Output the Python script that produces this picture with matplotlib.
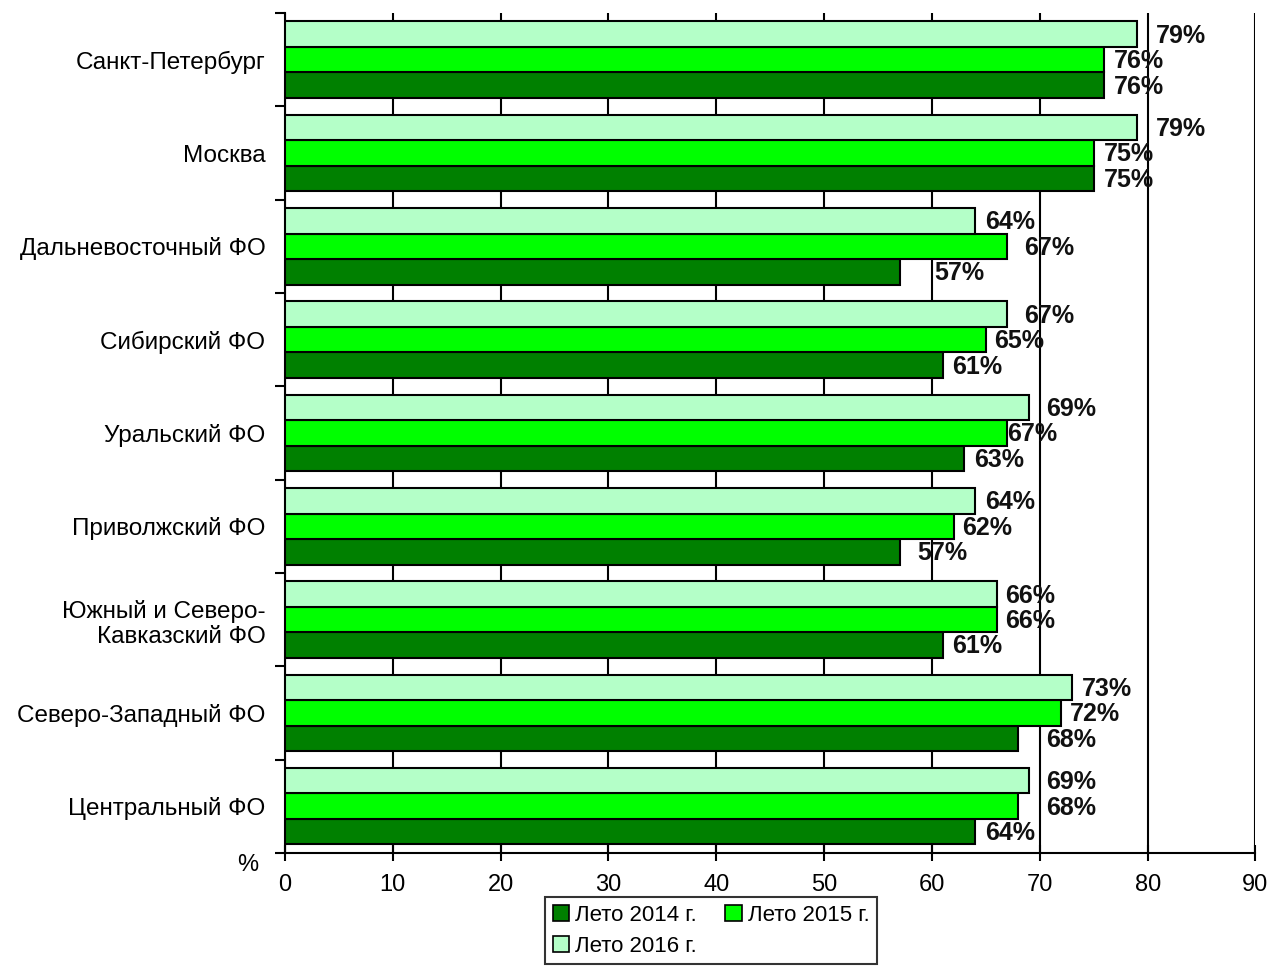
import numpy as np
import matplotlib
matplotlib.use("Agg")
import matplotlib.pyplot as plt
from matplotlib.patches import Patch

# ==========================================
# DATA
# ==========================================
regions = [
    "Центральный ФО",
    "Северо-Западный ФО",
    "Южный и Северо-\nКавказский ФО",
    "Приволжский ФО",
    "Уральский ФО",
    "Сибирский ФО",
    "Дальневосточный ФО",
    "Москва",
    "Санкт-Петербург",
]
summer_2014 = [64, 68, 61, 57, 63, 61, 57, 75, 76]
summer_2015 = [68, 72, 66, 62, 67, 65, 67, 75, 76]
summer_2016 = [69, 73, 66, 64, 69, 67, 64, 79, 79]
series_names = ["Лето 2014 г.", "Лето 2015 г.", "Лето 2016 г."]
x_ticks = [0, 10, 20, 30, 40, 50, 60, 70, 80, 90]

# label offsets (points) to mimic the original label placement
dx_2014 = [7, 20, 7, 13, 7, 7, 25, 7, 7]
dx_2015 = [20, 6, 6, 6, 0, 6, 12, 7, 7]
dx_2016 = [12, 7, 6, 7, 12, 12, 7, 14, 14]
# ==========================================

plt.rcParams["font.family"] = ["Liberation Sans", "DejaVu Sans"]

colors = ["#008000", "#00ff00", "#b4ffc8"]
bar_h = 0.273

fig = plt.figure(figsize=(12.72, 9.67), dpi=100)
ax = fig.add_axes([0.224, 0.118, 0.763, 0.8685])

y = np.arange(len(regions))
all_series = [summer_2014, summer_2015, summer_2016]
all_dx = [dx_2014, dx_2015, dx_2016]
for i, (vals, dxs) in enumerate(zip(all_series, all_dx)):
    pos = y + (i - 1) * bar_h
    ax.barh(pos, vals, height=bar_h, color=colors[i], edgecolor="black",
            linewidth=1.5, zorder=3)
    for p, v, d in zip(pos, vals, dxs):
        ax.annotate(f"{v}%", xy=(v, p), xytext=(d, -1), textcoords="offset points",
                    ha="left", va="center", fontsize=18, fontweight="bold",
                    color="#111111", zorder=4)

ax.set_xlim(0, 90)
ax.set_ylim(-0.5, len(regions) - 0.5)
ax.set_xticks(x_ticks)
ax.set_xticklabels([str(t) for t in x_ticks], fontsize=17)
ax.xaxis.grid(True, color="black", linewidth=1.5, zorder=0)
ax.set_axisbelow(True)

ax.set_yticks(y)
ax.set_yticklabels(regions, fontsize=17.5, linespacing=1.2)
ax.set_yticks(np.arange(-0.5, len(regions), 1.0), minor=True)
ax.tick_params(axis="y", which="major", length=0, pad=14)
ax.tick_params(axis="y", which="minor", length=7, width=1.5, direction="out")
ax.tick_params(axis="x", which="major", length=12, width=1.5, direction="inout", pad=9)

for side in ["top", "right"]:
    ax.spines[side].set_visible(False)
for side in ["left", "bottom"]:
    ax.spines[side].set_linewidth(1.5)

fig.text(248 / 1272, 1 - 865 / 967, "%", fontsize=17, ha="center", va="center")

# column-major fill -> reorder so rows read 2014, 2015 / 2016
handles = [Patch(facecolor=c, edgecolor="black", linewidth=1.2) for c in colors]
order = [0, 2, 1]
leg = fig.legend([handles[k] for k in order], [series_names[k] for k in order],
                 loc="upper center", bbox_to_anchor=(0.559, 0.0725), ncol=2,
                 fontsize=16, frameon=True, fancybox=False, edgecolor="black",
                 handlelength=0.75, handleheight=0.75, handletextpad=0.25,
                 columnspacing=1.3, borderpad=0.35, labelspacing=0.45,
                 borderaxespad=0)
leg.get_frame().set_linewidth(1.5)

fig.savefig("out.png", dpi=100)
